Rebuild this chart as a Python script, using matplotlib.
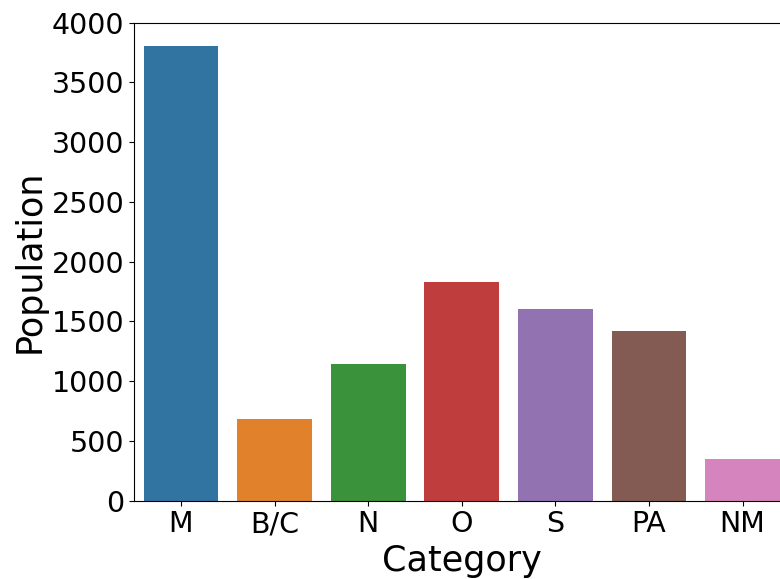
import matplotlib
matplotlib.use('Agg')
import matplotlib.pyplot as plt
import seaborn as sns

categories = ['M', 'B/C', 'N', 'O', 'S', 'PA', 'NM']
population = [3807, 683, 1146, 1833, 1605, 1420, 347]

fig = plt.figure(figsize=(7.8, 5.79), dpi=100)
ax = fig.add_axes([0.172, 0.1352, 0.840, 0.8256])

sns.barplot(x=categories, y=population, hue=categories, palette='tab10',
            saturation=0.75, legend=False, ax=ax)

ax.set_ylim(0, 4000)
ax.set_yticks(range(0, 4001, 500))
ax.tick_params(axis='both', labelsize=20.5)
ax.set_xlabel('Category', fontsize=25.2)
ax.set_ylabel('Population', fontsize=25.2)

fig.savefig('out.png', dpi=100)
